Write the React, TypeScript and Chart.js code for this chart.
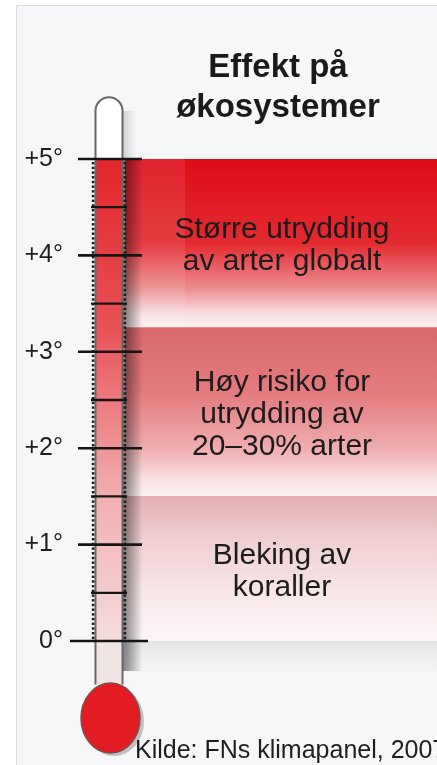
import React, { useEffect, useRef } from "react";
import { Chart, registerables } from "chart.js";

Chart.register(...registerables);

// ---- data ----
const categories = ["Temperaturøkning"];
const tickValues = [0, 1, 2, 3, 4, 5];
const tickLabels = ["0°", "+1°", "+2°", "+3°", "+4°", "+5°"];
const minorTickValues = [0.5, 1.5, 2.5, 3.5, 4.5];
const bandLow = [0, 1.5, 3.25];
const bandHigh = [1.5, 3.25, 5];
const bandNames = ["Bleking av koraller", "Høy risiko for utrydding av 20–30% arter", "Større utrydding av arter globalt"];
const bandLines = [
  ["Bleking av", "koraller"],
  ["Høy risiko for", "utrydding av", "20–30% arter"],
  ["Større utrydding", "av arter globalt"],
];
const titleLines = ["Effekt på", "økosystemer"];
const sourceText = "Kilde: FNs klimapanel, 2007";
const thermoTopValue = 5.64;
const thermoBottomValue = -0.45;
const bulbValue = -0.8;

// ---- styles ----
const FONT = "'Liberation Sans', Arial, Helvetica, sans-serif";
const bandStops: [number, string][][] = [
  [[0, "#e4b0b3"], [0.3, "#efcfd1"], [0.7, "#f9e8ea"], [1, "#fdf5f6"]],
  [[0, "#d9676a"], [0.4, "#e47c7f"], [0.72, "#efaeb0"], [0.9, "#f9e0e2"], [1, "#fdf3f4"]],
  [[0, "#de0c1a"], [0.5, "#e32a30"], [0.76, "#ed8a8c"], [0.92, "#f9e0e2"], [1, "#fdf1f2"]],
];

const thermoPlugin = {
  id: "thermo",
  beforeDraw(chart: any) {
    const { ctx, width, height } = chart;
    ctx.save();
    ctx.fillStyle = "#ffffff";
    ctx.fillRect(0, 0, width, height);
    ctx.fillStyle = "#f6f7f9";
    ctx.fillRect(16, 5, width - 16, height - 5);
    ctx.strokeStyle = "#dcdee0";
    ctx.lineWidth = 1;
    ctx.beginPath();
    ctx.moveTo(16.5, height);
    ctx.lineTo(16.5, 5.5);
    ctx.lineTo(width, 5.5);
    ctx.stroke();
    ctx.restore();
  },
  afterDatasetsDraw(chart: any) {
    const { ctx, chartArea } = chart;
    const y = chart.scales.y;
    const p = (v: number) => y.getPixelForValue(v);
    ctx.save();

    // lighter strip at the left of the top band
    ctx.fillStyle = "rgba(255,255,255,0.09)";
    ctx.fillRect(chartArea.left, p(5), 60, p(3.25) - p(5));

    // shade under the lowest band
    const sg = ctx.createLinearGradient(0, p(0), 0, p(0) + 45);
    sg.addColorStop(0, "#e2e4e6");
    sg.addColorStop(1, "rgba(246,247,249,0)");
    ctx.fillStyle = sg;
    ctx.fillRect(chartArea.left, p(0), chartArea.right - chartArea.left, 45);

    // tube shadow
    const tl = 95.5, tr = 122.5, cx = 109, r = 13.5;
    const topY = p(thermoTopValue), botY = p(thermoBottomValue);
    const shg = ctx.createLinearGradient(tr, 0, tr + 20, 0);
    shg.addColorStop(0, "rgba(0,0,0,0.5)");
    shg.addColorStop(1, "rgba(0,0,0,0)");
    ctx.fillStyle = shg;
    ctx.fillRect(tr, p(5), 20, p(0) - p(5) + 30);
    const shg2 = ctx.createLinearGradient(tr, 0, tr + 14, 0);
    shg2.addColorStop(0, "rgba(0,0,0,0.15)");
    shg2.addColorStop(1, "rgba(0,0,0,0)");
    ctx.fillStyle = shg2;
    ctx.fillRect(tr, topY + r, 14, p(5) - topY - r);

    // tube
    ctx.beginPath();
    ctx.moveTo(tl, botY);
    ctx.lineTo(tl, topY + r);
    ctx.arc(cx, topY + r, r, Math.PI, 0);
    ctx.lineTo(tr, botY);
    ctx.closePath();
    ctx.fillStyle = "#ffffff";
    ctx.fill();
    ctx.save();
    ctx.clip();
    const tg = ctx.createLinearGradient(0, p(5), 0, p(0));
    tg.addColorStop(0, "#e2262b");
    tg.addColorStop(0.35, "#e85256");
    tg.addColorStop(0.7, "#f2aeb0");
    tg.addColorStop(1, "#f6dcdd");
    ctx.fillStyle = tg;
    ctx.fillRect(tl - 3, p(5), tr - tl + 6, p(0) - p(5));
    ctx.fillStyle = "#f1e4e5";
    ctx.fillRect(tl - 3, p(0), tr - tl + 6, botY - p(0) + 2);
    ctx.restore();
    ctx.strokeStyle = "#686868";
    ctx.lineWidth = 2;
    ctx.beginPath();
    ctx.moveTo(tl, botY);
    ctx.lineTo(tl, topY + r);
    ctx.arc(cx, topY + r, r, Math.PI, 0);
    ctx.lineTo(tr, botY);
    ctx.stroke();

    // dotted edges
    ctx.fillStyle = "#1a1a1a";
    for (let yy = p(5) + 3; yy < p(0) - 1; yy += 4.7) {
      ctx.fillRect(91.8, yy, 2.6, 2.4);
      ctx.fillRect(123.6, yy, 2.6, 2.4);
    }

    // ticks
    ctx.strokeStyle = "#161616";
    ctx.lineWidth = 2.6;
    tickValues.forEach((v) => {
      const yy = p(v);
      ctx.beginPath();
      ctx.moveTo(v === 0 ? 70 : 78, yy);
      ctx.lineTo(v === 0 ? 148 : 142, yy);
      ctx.stroke();
    });
    ctx.lineWidth = 2.3;
    minorTickValues.forEach((v) => {
      const yy = p(v);
      ctx.beginPath();
      ctx.moveTo(91, yy);
      ctx.lineTo(127, yy);
      ctx.stroke();
    });

    // bulb
    const by = p(bulbValue);
    ctx.fillStyle = "rgba(0,0,0,0.22)";
    ctx.beginPath();
    ctx.ellipse(114, by + 3, 30, 35, 0, 0, Math.PI * 2);
    ctx.fill();
    ctx.fillStyle = "#e31c24";
    ctx.strokeStyle = "#7a4d4d";
    ctx.lineWidth = 1.5;
    ctx.beginPath();
    ctx.ellipse(110.5, by, 29.5, 35, 0, 0, Math.PI * 2);
    ctx.fill();
    ctx.stroke();

    // band texts
    ctx.fillStyle = "#1c1c1c";
    ctx.font = `30px ${FONT}`;
    ctx.textAlign = "center";
    ctx.textBaseline = "alphabetic";
    const tx = (chartArea.left + chartArea.right) / 2 + 1;
    bandLines.forEach((lines, i) => {
      const c = (p(bandLow[i]) + p(bandHigh[i])) / 2;
      lines.forEach((ln, j) => {
        ctx.fillText(ln, tx, c + (j - (lines.length - 1) / 2) * 32 + 11);
      });
    });

    // title
    ctx.font = `bold 33px ${FONT}`;
    ctx.fillStyle = "#1a1a1a";
    titleLines.forEach((ln, j) => ctx.fillText(ln, 278, 77 + j * 40));

    // source
    ctx.font = `25px ${FONT}`;
    ctx.textAlign = "left";
    ctx.fillStyle = "#1e1e1e";
    ctx.fillText(sourceText, 135, 758);
    ctx.restore();
  },
};

function bandGradient(i: number) {
  return (context: any) => {
    const chart = context.chart;
    const y = chart.scales?.y;
    if (!chart.chartArea || !y) return bandStops[i][0][1];
    const g = chart.ctx.createLinearGradient(0, y.getPixelForValue(bandHigh[i]), 0, y.getPixelForValue(bandLow[i]));
    bandStops[i].forEach(([o, c]) => g.addColorStop(o, c));
    return g;
  };
}

export default function App() {
  const ref = useRef<HTMLCanvasElement>(null);
  useEffect(() => {
    const chart = new Chart(ref.current!, {
      type: "bar",
      data: {
        labels: categories,
        datasets: bandLow.map((lo, i) => ({
          label: bandNames[i],
          data: [[lo, bandHigh[i]]] as any,
          backgroundColor: bandGradient(i),
          borderWidth: 0,
          barPercentage: 1,
          categoryPercentage: 1,
          grouped: false,
        })),
      },
      options: {
        animation: false,
        responsive: false,
        layout: { padding: { top: 159, bottom: 124, left: 0, right: 0 } },
        plugins: { legend: { display: false }, tooltip: { enabled: false }, title: { display: false } },
        scales: {
          x: { display: false },
          y: {
            min: 0,
            max: 5,
            afterBuildTicks: (s: any) => {
              s.ticks = tickValues.map((v) => ({ value: v }));
            },
            afterFit: (s: any) => {
              s.width = 125;
            },
            grid: { display: false, drawTicks: false },
            border: { display: false },
            ticks: {
              autoSkip: false,
              padding: 62,
              color: "#1e1e1e",
              font: { family: FONT, size: 25 },
              callback: (_v: any, idx: number) => tickLabels[idx],
            },
          },
        },
      },
      plugins: [thermoPlugin],
    } as any);
    return () => chart.destroy();
  }, []);
  return (
    <div style={{ position: "fixed", left: 0, top: 0, width: 437, height: 765, background: "#fff" }}>
      <canvas ref={ref} width={437} height={765} style={{ display: "block", width: 437, height: 765 }} />
    </div>
  );
}
